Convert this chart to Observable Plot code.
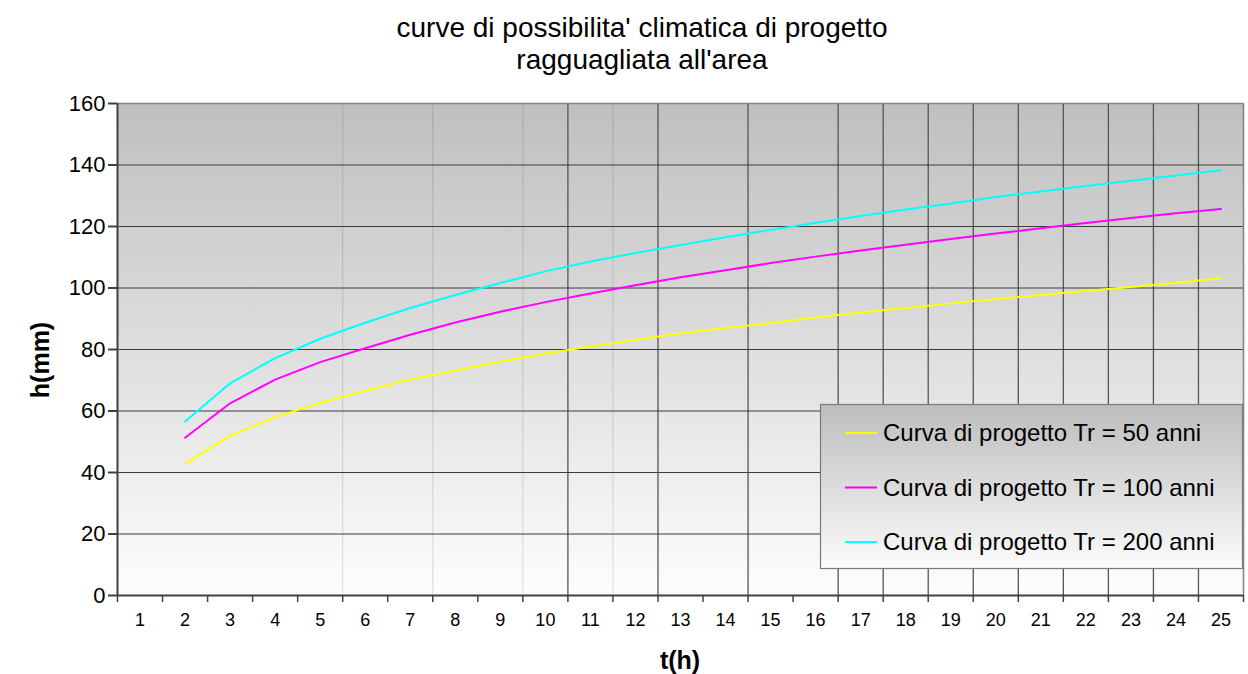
<!DOCTYPE html>
<html><head><meta charset="utf-8">
<script src="https://cdn.jsdelivr.net/npm/d3@7"></script>
<script src="https://cdn.jsdelivr.net/npm/@observablehq/plot@0.6"></script>
<style>
html,body{margin:0;padding:0;background:#fff;}
body{width:1248px;height:674px;overflow:hidden;font-family:"Liberation Sans",Arial,sans-serif;}
#title{box-sizing:border-box;height:80px;padding:12px 0 0 36px;text-align:center;font-size:28px;line-height:32px;color:#000;}
#chart svg{display:block;}
</style></head><body>
<div id="title">curve di possibilita' climatica di progetto<br>ragguagliata all'area</div>
<div id="chart"></div>
<script>
// category labels on the x axis
const categories = [1,2,3,4,5,6,7,8,9,10,11,12,13,14,15,16,17,18,19,20,21,22,23,24,25];
// durations at which the curves are drawn
const durations = [2,3,4,5,6,7,8,9,10,11,12,13,14,15,16,17,18,19,20,21,22,23,24,25];
// h (mm) for each return period
const tr50  = [42.9,52.0,58.0,62.7,66.6,70.3,73.2,76.1,78.7,81.0,83.2,85.3,87.0,88.6,90.4,92.0,93.5,95.0,96.4,97.7,99.0,100.3,101.7,103.2];
const tr100 = [51.3,62.5,70.2,75.9,80.4,84.8,88.8,92.3,95.4,98.2,100.9,103.5,105.8,108.1,110.2,112.2,114.1,115.9,117.7,119.4,121.1,122.8,124.3,125.7];
const tr200 = [56.6,69.0,77.2,83.5,88.7,93.5,97.7,101.6,105.4,108.6,111.4,114.0,116.5,118.9,121.2,123.4,125.5,127.5,129.6,131.4,133.2,134.9,136.6,138.3];
const seriesNames = ["Curva di progetto Tr = 50 anni","Curva di progetto Tr = 100 anni","Curva di progetto Tr = 200 anni"];
const seriesColors = ["#ffff00","#ff00ff","#00ffff"];
const yTicks = [0,20,40,60,80,100,120,140,160];
// category boundaries (after category k) where vertical gridlines are visible
const gridStrong = [10,12,14,16,17,18,19,20,21,22,23,24];
const gridFaint = [5,7,9,11];
const boundaries = [0,1,2,3,4,5,6,7,8,9,10,11,12,13,14,15,16,17,18,19,20,21,22,23,24,25];

const rows = [];
[tr50, tr100, tr200].forEach((vals, i) => durations.forEach((t, j) => rows.push({t, h: vals[j], s: seriesNames[i]})));

const FONT = '"Liberation Sans", Arial, sans-serif';

function background(index, scales, values, dims) {
  const {width, height, marginLeft, marginRight, marginTop, marginBottom} = dims;
  const g = d3.create("svg:g");
  const grad = g.append("defs").append("linearGradient").attr("id", "bgGrad").attr("x1", 0).attr("y1", 0).attr("x2", 0).attr("y2", 1);
  grad.append("stop").attr("offset", "0%").attr("stop-color", "#bfbfbf");
  grad.append("stop").attr("offset", "100%").attr("stop-color", "#fdfdfd");
  g.append("rect").attr("x", marginLeft).attr("y", marginTop)
    .attr("width", width - marginLeft - marginRight).attr("height", height - marginTop - marginBottom)
    .attr("fill", "url(#bgGrad)");
  return g.node();
}

function decorations(index, scales, values, dims) {
  const {width, height, marginLeft, marginRight, marginTop, marginBottom} = dims;
  const g = d3.create("svg:g").attr("font-family", FONT).attr("text-anchor", "start");
  // axis titles
  g.append("text").attr("transform", `translate(40,${(marginTop + height - marginBottom) / 2 + 11}) rotate(-90)`)
    .attr("text-anchor", "middle").attr("dy", "0.35em").attr("font-size", 25).attr("font-weight", "bold").text("h(mm)");
  g.append("text").attr("x", 680).attr("y", height - 14).attr("text-anchor", "middle").attr("dy", "0.35em")
    .attr("font-size", 25).attr("font-weight", "bold").text("t(h)");
  // legend
  const lx = 820, ly = 324, lw = width - marginRight - lx, lh = 164;
  const lg = g.append("g");
  const grad = lg.append("defs").append("linearGradient").attr("id", "lgGrad").attr("x1", 0).attr("y1", 0).attr("x2", 0).attr("y2", 1);
  grad.append("stop").attr("offset", "0%").attr("stop-color", "#bdbdbd");
  grad.append("stop").attr("offset", "100%").attr("stop-color", "#fbfbfb");
  lg.append("rect").attr("x", lx + 0.5).attr("y", ly + 0.5).attr("width", lw - 1).attr("height", lh)
    .attr("fill", "url(#lgGrad)").attr("stroke", "#7a7a7a").attr("stroke-width", 1.2);
  seriesNames.forEach((name, i) => {
    const cy = ly + 29 + i * 54.5;
    lg.append("line").attr("x1", lx + 25).attr("x2", lx + 57).attr("y1", cy).attr("y2", cy)
      .attr("stroke", seriesColors[i]).attr("stroke-width", 2);
    lg.append("text").attr("x", lx + 63).attr("y", cy).attr("dy", "0.35em").attr("text-anchor", "start")
      .attr("font-size", 24).attr("fill", "#000").text(name);
  });
  return g.node();
}

const chart = Plot.plot({
  width: 1248, height: 594,
  marginLeft: 117, marginRight: 5, marginTop: 23, marginBottom: 79,
  style: {fontFamily: FONT, color: "#000", background: "transparent", overflow: "visible"},
  x: {type: "linear", domain: [0.5, 25.5]},
  y: {domain: [0, 160]},
  color: {domain: seriesNames, range: seriesColors},
  marks: [
    background,
    Plot.ruleX(gridFaint, {x: d => d + 0.5, stroke: "#000", strokeOpacity: 0.13}),
    Plot.ruleX(gridStrong, {x: d => d + 0.5, stroke: "#555", strokeWidth: 1.3}),
    Plot.ruleY(yTicks.filter(v => v > 0 && v < 160), {y: d => d, stroke: "#3c3c3c", strokeWidth: 1.2}),
    Plot.ruleY([160], {stroke: "#858585", strokeWidth: 1.6}),
    Plot.ruleX([25.5], {stroke: "#858585", strokeWidth: 1.6}),
    Plot.line(rows, {x: "t", y: "h", z: "s", stroke: "s", strokeWidth: 2}),
    Plot.axisY({ticks: yTicks, tickSize: 9, tickPadding: 3, fontSize: 22, label: null, stroke: "#404040", strokeWidth: 2, tickFormat: d => String(d)}),
    Plot.axisX({ticks: boundaries.map(b => b + 0.5), tickSize: 7, tickFormat: () => "", label: null, stroke: "#404040", strokeWidth: 1.5}),
    Plot.axisX({ticks: categories, tickSize: 0, tickPadding: 18, fontSize: 18, label: null, tickFormat: d => String(d)}),
    Plot.ruleX([0.5], {stroke: "#404040", strokeWidth: 2}),
    Plot.ruleY([0], {stroke: "#404040", strokeWidth: 2}),
    decorations
  ]
});
document.getElementById("chart").append(chart);
</script>
</body></html>
